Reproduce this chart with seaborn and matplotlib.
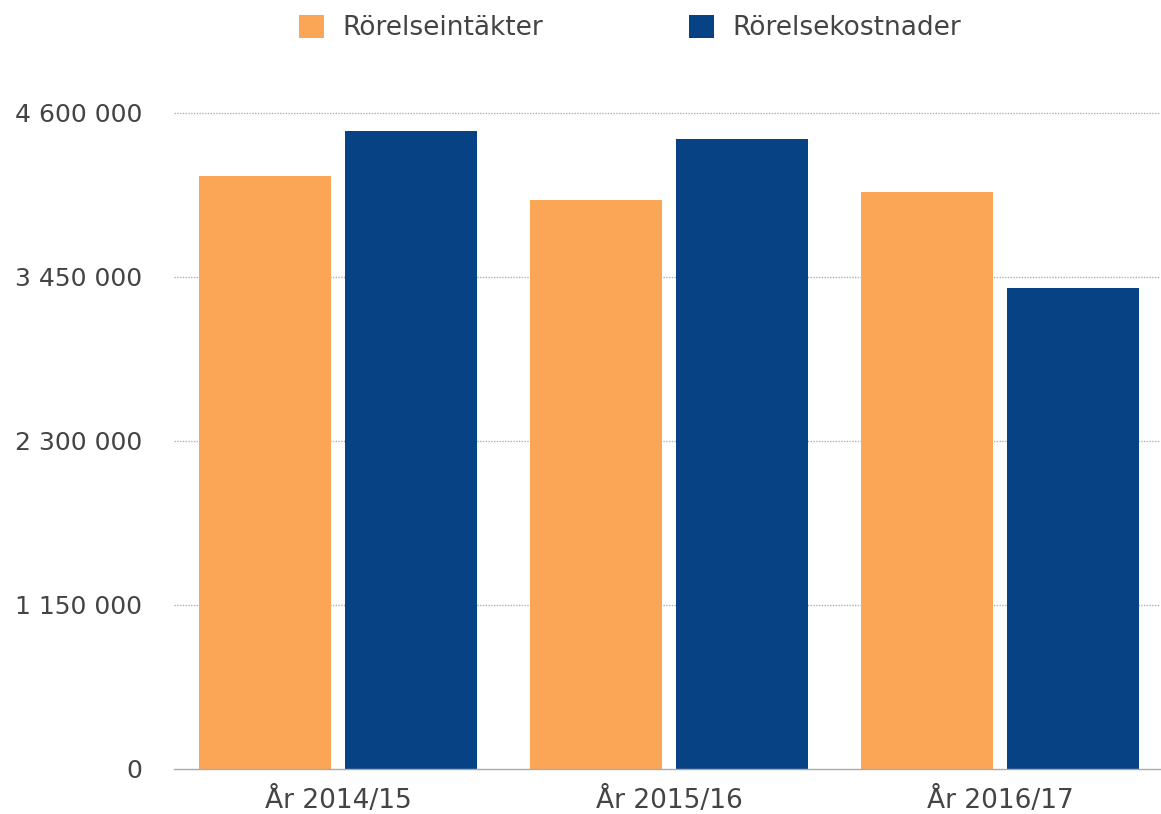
import matplotlib
matplotlib.use("Agg")
import matplotlib.pyplot as plt
import seaborn as sns
import pandas as pd
from matplotlib.patches import Patch

categories = ["År 2014/15", "År 2015/16", "År 2016/17"]
series_names = ["Rörelseintäkter", "Rörelsekostnader"]
intakter = [4158000, 3990000, 4046000]
kostnader = [4474000, 4418000, 3373000]
ytick_values = [0, 1150000, 2300000, 3450000, 4600000]
ytick_labels = ["0", "1 150 000", "2 300 000", "3 450 000", "4 600 000"]
colors = ["#FBA557", "#074384"]

df = pd.DataFrame({
    "cat": categories * 2,
    "serie": [series_names[0]] * 3 + [series_names[1]] * 3,
    "val": intakter + kostnader,
})

sns.set_theme(style="white")
plt.rcParams["font.family"] = ["DejaVu Sans"]

fig = plt.figure(figsize=(11.61, 8.14), dpi=100)
ax = fig.add_axes([174 / 1161, 45 / 814, 986 / 1161, (769 - 91.6) / 814])

sns.barplot(data=df, x="cat", y="val", hue="serie", palette=colors,
            width=0.88, gap=0.09, ax=ax, legend=False, saturation=1,
            linewidth=0)

ax.set_ylim(0, 4750000)
ax.set_xlim(-0.4955, 2.4834)
ax.set_yticks(ytick_values)
ax.set_yticklabels(ytick_labels)
ax.set_xlabel("")
ax.set_ylabel("")
for v in ytick_values[1:]:
    ax.axhline(v, color="#b0b0b0", linestyle=(0, (1, 1)), linewidth=1, zorder=0)
ax.set_axisbelow(True)
for s in ["top", "right", "left"]:
    ax.spines[s].set_visible(False)
ax.spines["bottom"].set_color("#aaaaaa")
ax.spines["bottom"].set_linewidth(1)
ax.tick_params(axis="y", length=0, pad=23, labelsize=18, labelcolor="#444444")
ax.tick_params(axis="x", length=0, pad=13, labelsize=19, labelcolor="#444444")

handles = [Patch(facecolor=c, edgecolor="none") for c in colors]
fig.legend(handles, series_names, loc="center", bbox_to_anchor=(630 / 1161, 1 - 28 / 814),
           ncol=2, frameon=False, fontsize=19, handlelength=0.95, handleheight=0.95,
           handletextpad=0.72, columnspacing=5.5, labelcolor="#444444")

fig.savefig("out.png", dpi=100)
